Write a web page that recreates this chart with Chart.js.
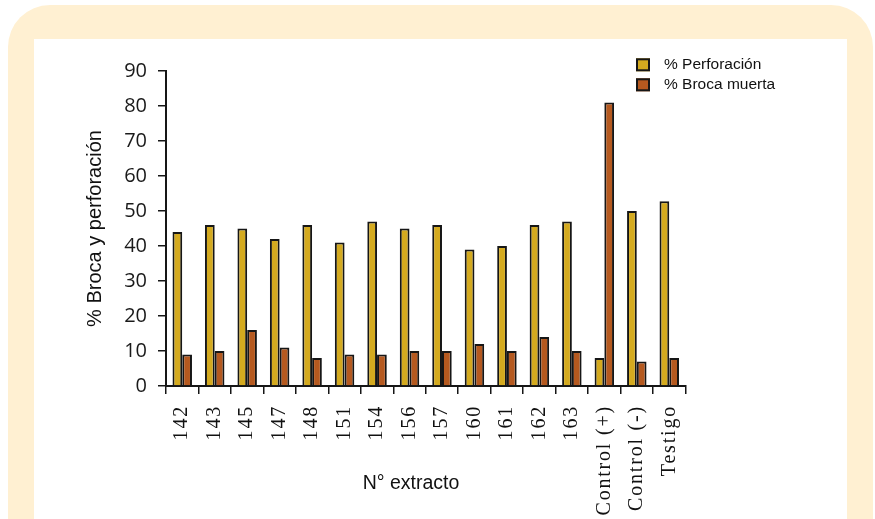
<!DOCTYPE html>
<html>
<head>
<meta charset="utf-8">
<script src="https://cdn.jsdelivr.net/npm/chart.js@4/dist/chart.umd.min.js"></script>
<style>
  html, body { margin: 0; padding: 0; background: #ffffff; }
  body { width: 875px; height: 519px; position: relative; overflow: hidden; }
  .frame { position: absolute; left: 8px; top: 5px; width: 865px; height: 620px;
           background: #FFF0D2; border-radius: 42px; }
  .panel { position: absolute; left: 34px; top: 39px; width: 813px; height: 600px; background: #ffffff; }
  #chart { position: absolute; left: 0; top: 0; }
</style>
</head>
<body>
<div class="frame"></div>
<div class="panel"></div>
<canvas id="chart" width="875" height="519"></canvas>
<script>
// Extract codes tested plus the controls
const categories = ['142', '143', '145', '147', '148', '151', '154', '156', '157', '160', '161', '162', '163', 'Control (+)', 'Control (-)', 'Testigo'];
// % of perforated fruit
const perforacion = [44, 46, 45, 42, 46, 41, 47, 45, 46, 39, 40, 46, 47, 8, 50, 52.8];
// % of dead borers
const brocaMuerta = [9, 10, 16, 11, 8, 9, 9, 10, 10, 12, 10, 14, 10, 81, 7, 8];
const yTicks = [0, 10, 20, 30, 40, 50, 60, 70, 80, 90];

const seriesNames = ['% Perforación', '% Broca muerta'];
const xTitle = 'N° extracto';
const yTitle = '% Broca y perforación';

const YELLOW = '#D4AA1F';
const ORANGE = '#B5591F';
const INK = '#161616';

// Category labels are set in a spaced serif; the spacing is switched on
// only for the x tick layer, which is drawn after the datasets.
const spacedLabels = {
  id: 'spacedLabels',
  afterDatasetsDraw(chart) { chart.ctx.letterSpacing = '1.8px'; },
  afterDraw(chart) { chart.ctx.letterSpacing = '0px'; }
};

// Legend boxes at the upper right and the x axis title
const extras = {
  id: 'extras',
  afterDraw(chart) {
    const ctx = chart.ctx;
    ctx.save();
    ctx.letterSpacing = '0px';
    const ds = chart.data.datasets;
    const rows = [69.3, 89.3];
    ds.forEach((d, i) => {
      const by = rows[i] - 11;
      ctx.fillStyle = d.backgroundColor;
      ctx.fillRect(636, by, 14, 13);
      ctx.strokeStyle = INK;
      ctx.lineWidth = 2;
      ctx.strokeRect(637, by + 1, 12, 11);
      ctx.fillStyle = '#111111';
      ctx.font = '15.5px "Liberation Sans", Arial, sans-serif';
      ctx.textAlign = 'left';
      ctx.textBaseline = 'alphabetic';
      ctx.fillText(d.label, 664, rows[i]);
    });
    ctx.font = '19.5px "Liberation Sans", Arial, sans-serif';
    ctx.fillStyle = '#111111';
    ctx.textAlign = 'center';
    ctx.textBaseline = 'alphabetic';
    ctx.fillText(xTitle, 411, 488.5);
    ctx.restore();
  }
};

new Chart(document.getElementById('chart'), {
  type: 'bar',
  data: {
    labels: categories,
    datasets: [
      { label: seriesNames[0], data: perforacion, backgroundColor: YELLOW,
        borderColor: INK, borderWidth: 2, borderSkipped: 'bottom' },
      { label: seriesNames[1], data: brocaMuerta, backgroundColor: ORANGE,
        borderColor: INK, borderWidth: 2, borderSkipped: 'bottom' }
    ]
  },
  options: {
    responsive: false,
    animation: false,
    devicePixelRatio: 1,
    layout: { padding: { left: 83, right: 189.5, top: 71, bottom: 0 } },
    datasets: { bar: { categoryPercentage: 0.6, barPercentage: 1.0 } },
    plugins: {
      legend: { display: false },
      tooltip: { enabled: false },
      title: { display: false }
    },
    scales: {
      x: {
        type: 'category',
        offset: true,
        grid: { offset: true, drawOnChartArea: false, drawTicks: true, tickLength: 8,
                color: INK, lineWidth: 1.5 },
        border: { display: true, color: INK, width: 2 },
        ticks: {
          z: 1,
          autoSkip: false,
          minRotation: 90,
          maxRotation: 90,
          padding: 11,
          color: '#111111',
          font: { family: '"Liberation Serif", "Times New Roman", serif', size: 20 }
        },
        afterFit(scale) { scale.height = 133; }
      },
      y: {
        min: 0,
        max: 90,
        afterBuildTicks(scale) { scale.ticks = yTicks.map(v => ({ value: v })); },
        grid: { drawOnChartArea: false, drawTicks: true, tickLength: 8,
                color: INK, lineWidth: 1.5 },
        border: { display: true, color: INK, width: 2 },
        ticks: {
          padding: 11,
          color: '#1a1a1a',
          font: { family: '"Open Sans", "DejaVu Sans Condensed", sans-serif', size: 20 }
        },
        title: {
          display: true,
          text: yTitle,
          color: '#111111',
          padding: 0,
          font: { family: '"Liberation Sans", Arial, sans-serif', size: 20 }
        },
        afterFit(scale) { scale.width = 83; }
      }
    }
  },
  plugins: [spacedLabels, extras]
});
</script>
</body>
</html>
